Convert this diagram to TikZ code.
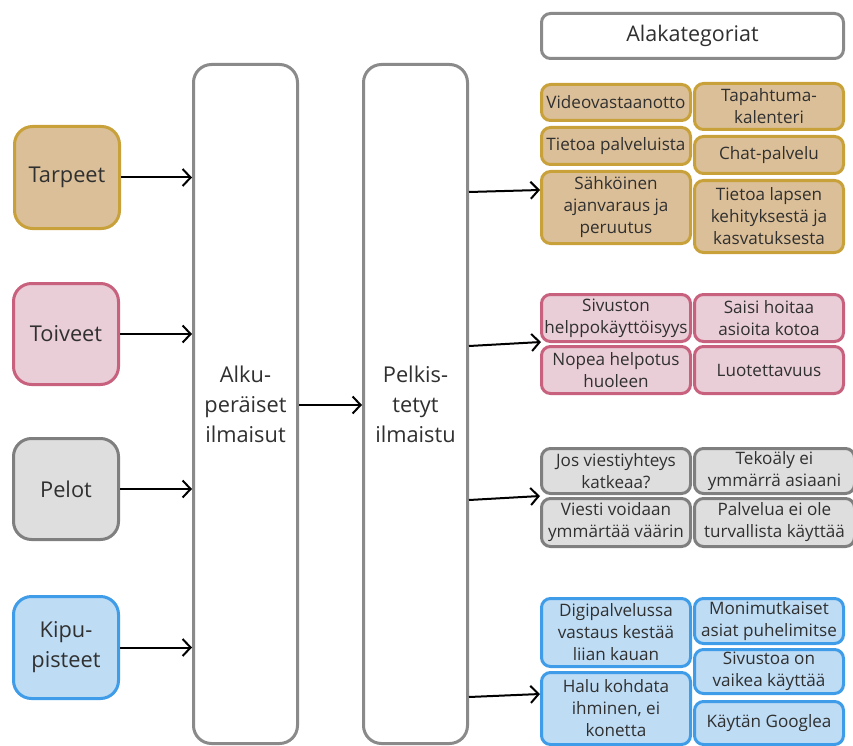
\documentclass[tikz,border=0pt]{standalone}
\usepackage{fontspec}
\setmainfont{Open Sans}
\usetikzlibrary{arrows.meta}

\definecolor{txt}{HTML}{303030}
\definecolor{goldF}{HTML}{DBBF98}
\definecolor{goldD}{HTML}{C9A13A}
\definecolor{pinkF}{HTML}{E9CDD7}
\definecolor{pinkD}{HTML}{C8617E}
\definecolor{grayF}{HTML}{DEDEDE}
\definecolor{grayD}{HTML}{7F7F7F}
\definecolor{blueF}{HTML}{BEDCF4}
\definecolor{blueD}{HTML}{3F9CE8}
\definecolor{frameD}{HTML}{8A8A8A}

% box given by its outer corners (x1,y1) and (x2,y2)
\newcommand\subbox[7]{%
  \node[#2, minimum width={#5-#3-3}, minimum height={#6-#4-3}]
    (#1) at ({(#3+#5)/2},{(#4+#6)/2}) {#7};}

\begin{document}
\begin{tikzpicture}[x=1pt,y=-1pt,
  base/.style={rounded corners=9pt, line width=3pt, align=center, text=txt,
    inner sep=0pt, font=\fontsize{17.1}{22}\selectfont},
  goldbox/.style={base, draw=goldD, fill=goldF},
  pinkbox/.style={base, draw=pinkD, fill=pinkF},
  graybox/.style={base, draw=grayD, fill=grayF},
  bluebox/.style={base, draw=blueD, fill=blueF},
  mainbox/.style={rounded corners=18pt, line width=3pt, align=center, text=txt,
    inner sep=0pt, font=\fontsize{21.8}{30}\selectfont},
  column/.style={mainbox, draw=frameD, fill=white},
  arr/.style={line width=2pt, -{Straight Barb[length=8pt,width=17pt,line width=2pt]}},
]
\useasboundingbox (0,0) rectangle (853,746);

% header
\subbox{head}{base, draw=frameD, fill=white, font=\fontsize{21.5}{26}\selectfont}{540}{12}{845}{60}{Alakategoriat}

% left category nodes
\subbox{tarpeet}{mainbox, draw=goldD, fill=goldF}{13}{125}{121}{230}{Tarpeet}
\subbox{toiveet}{mainbox, draw=pinkD, fill=pinkF}{12}{282}{120}{386}{Toiveet}
\subbox{pelot}{mainbox, draw=grayD, fill=grayF}{12}{437}{120}{541}{Pelot}
\subbox{kipu}{mainbox, draw=blueD, fill=blueF}{12}{595}{120}{700}{Kipu-\\pisteet}

% the two tall columns
\subbox{orig}{column}{192}{63}{299}{745}{Alku-\\peräiset\\ilmaisut}
\subbox{simp}{column}{362}{63}{469}{745}{Pelkis-\\tetyt\\ilmaistu}

% needs
\subbox{g1}{goldbox}{540}{83}{692}{122}{Videovastaanotto}
\subbox{g2}{goldbox}{540}{126}{692}{166}{Tietoa palveluista}
\subbox{g3}{goldbox}{540}{170}{692}{245}{Sähköinen\\ajanvaraus ja\\peruutus}
\subbox{g4}{goldbox}{693}{82}{845}{131}{Tapahtuma-\\kalenteri}
\subbox{g5}{goldbox}{693}{135}{845}{175}{Chat-palvelu}
\subbox{g6}{goldbox}{693}{179}{845}{254}{Tietoa lapsen\\kehityksestä ja\\kasvatuksesta}

% wishes
\subbox{p1}{pinkbox}{540}{293}{692}{343}{Sivuston\\helppokäyttöisyys}
\subbox{p2}{pinkbox}{540}{345}{692}{395}{Nopea helpotus\\huoleen}
\subbox{p3}{pinkbox}{693}{293}{845}{343}{Saisi hoitaa\\asioita kotoa}
\subbox{p4}{pinkbox}{693}{345}{845}{395}{Luotettavuus}

% fears
\subbox{f1}{graybox}{540}{447}{692}{495}{Jos viestiyhteys\\katkeaa?}
\subbox{f2}{graybox}{540}{497}{692}{548}{Viesti voidaan\\ymmärtää väärin}
\subbox{f3}{graybox}{693}{447}{856}{495}{Tekoäly ei\\ymmärrä asiaani}
\subbox{f4}{graybox}{693}{497}{856}{548}{Palvelua ei ole\\turvallista käyttää}

% pain points
\subbox{b1}{bluebox}{540}{597}{692}{668}{Digipalvelussa\\vastaus kestää\\liian kauan}
\subbox{b2}{bluebox}{540}{671}{692}{746}{Halu kohdata\\ihminen, ei\\konetta}
\subbox{b3}{bluebox}{693}{597}{845}{645}{Monimutkaiset\\asiat puhelimitse}
\subbox{b4}{bluebox}{693}{648}{845}{695}{Sivustoa on\\vaikea käyttää}
\subbox{b5}{bluebox}{693}{700}{845}{746}{Käytän Googlea}

% connectors into the first column
\draw[arr] (tarpeet.east) -- (orig.west |- tarpeet.east);
\draw[arr] (toiveet.east) -- (orig.west |- toiveet.east);
\draw[arr] (pelot.east) -- (orig.west |- pelot.east);
\draw[arr] (kipu.east) -- (orig.west |- kipu.east);

% between the columns
\coordinate (mid) at (0,405);
\draw[arr] (orig.east |- mid) -- (simp.west |- mid);

% from the second column to each group
\coordinate (s1) at (0,192);  \coordinate (t1) at (540,190);
\coordinate (s2) at (0,346);  \coordinate (t2) at (541,342);
\coordinate (s3) at (0,500);  \coordinate (t3) at (540,496);
\coordinate (s4) at (0,697);  \coordinate (t4) at (540,694);
\draw[arr] (simp.east |- s1) -- (t1);
\draw[arr] (simp.east |- s2) -- (t2);
\draw[arr] (simp.east |- s3) -- (t3);
\draw[arr] (simp.east |- s4) -- (t4);
\end{tikzpicture}
\end{document}
